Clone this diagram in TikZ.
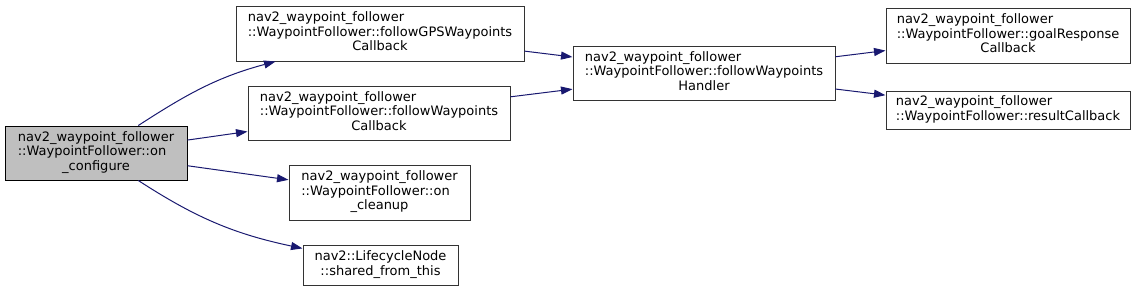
\documentclass[tikz,border=0pt]{standalone}
\usepackage{fontspec}
\setmainfont{DejaVu Sans}
\usepackage{tikz}
\usetikzlibrary{arrows.meta, positioning}

\definecolor{edgeblue}{HTML}{191970}
\newcommand{\ctrline}[1]{\multicolumn{1}{@{}c@{}}{#1}}

\begin{document}
\begin{tikzpicture}[
    fn/.style={rectangle, draw=black!80, line width=1pt, fill=white,
               font=\fontsize{13}{14.5}\selectfont, inner sep=2pt},
    root/.style={fn, draw=black, fill=black!25},
    call/.style={-{Triangle[length=11.5pt,width=8pt]}, line width=1pt,
                 draw=edgeblue}
]
\useasboundingbox (0,0) rectangle (1133pt,-293pt);

%% --- CALLER ---
\node[root, minimum width=182pt, minimum height=54pt] (configure) at (96pt,-153pt)
    {\begin{tabular}{@{}l@{}}nav2\_waypoint\_follower\\::WaypointFollower::on\\\ctrline{\_configure}\end{tabular}};

%% --- DIRECT CALLEES ---
\node[fn, right=48pt of configure, yshift=119.5pt,
      minimum width=288pt, minimum height=55pt] (gps)
    {\begin{tabular}{@{}l@{}}nav2\_waypoint\_follower\\::WaypointFollower::followGPSWaypoints\\\ctrline{Callback}\end{tabular}};
\node[fn, right=60pt of configure, yshift=40pt,
      minimum width=262pt, minimum height=54pt] (wpcb)
    {\begin{tabular}{@{}l@{}}nav2\_waypoint\_follower\\::WaypointFollower::followWaypoints\\\ctrline{Callback}\end{tabular}};
\node[fn, right=101pt of configure, yshift=-39.5pt,
      minimum width=181pt, minimum height=55pt] (cleanup)
    {\begin{tabular}{@{}l@{}}nav2\_waypoint\_follower\\::WaypointFollower::on\\\ctrline{\_cleanup}\end{tabular}};
\node[fn, right=115pt of configure, yshift=-112pt,
      minimum width=155pt, minimum height=40pt] (shared)
    {\begin{tabular}{@{}l@{}}nav2::LifecycleNode\\\ctrline{::shared\_from\_this}\end{tabular}};

%% --- HANDLER ---
\node[fn, right=48pt of gps, yshift=-39.5pt,
      minimum width=262pt, minimum height=54pt] (handler)
    {\begin{tabular}{@{}l@{}}nav2\_waypoint\_follower\\::WaypointFollower::followWaypoints\\\ctrline{Handler}\end{tabular}};

%% --- ACTION CALLBACKS ---
\node[fn, right=50pt of handler, yshift=37.5pt,
      minimum width=244pt, minimum height=55pt] (goal)
    {\begin{tabular}{@{}l@{}}nav2\_waypoint\_follower\\::WaypointFollower::goalResponse\\\ctrline{Callback}\end{tabular}};
\node[fn, right=50pt of handler, yshift=-37pt,
      minimum width=244pt, minimum height=38pt] (result)
    {\begin{tabular}{@{}l@{}}nav2\_waypoint\_follower\\\ctrline{::WaypointFollower::resultCallback}\end{tabular}};

%% --- CALLS ---
\draw[call] (configure) to[out=33, in=195] (gps);
\draw[call] (configure) -- (wpcb);
\draw[call] (configure) -- (cleanup);
\draw[call] (configure) to[out=-33, in=168] (shared);
\draw[call] (gps)     -- (handler);
\draw[call] (wpcb)    -- (handler);
\draw[call] (handler) -- (goal);
\draw[call] (handler) -- (result);

\end{tikzpicture}
\end{document}
